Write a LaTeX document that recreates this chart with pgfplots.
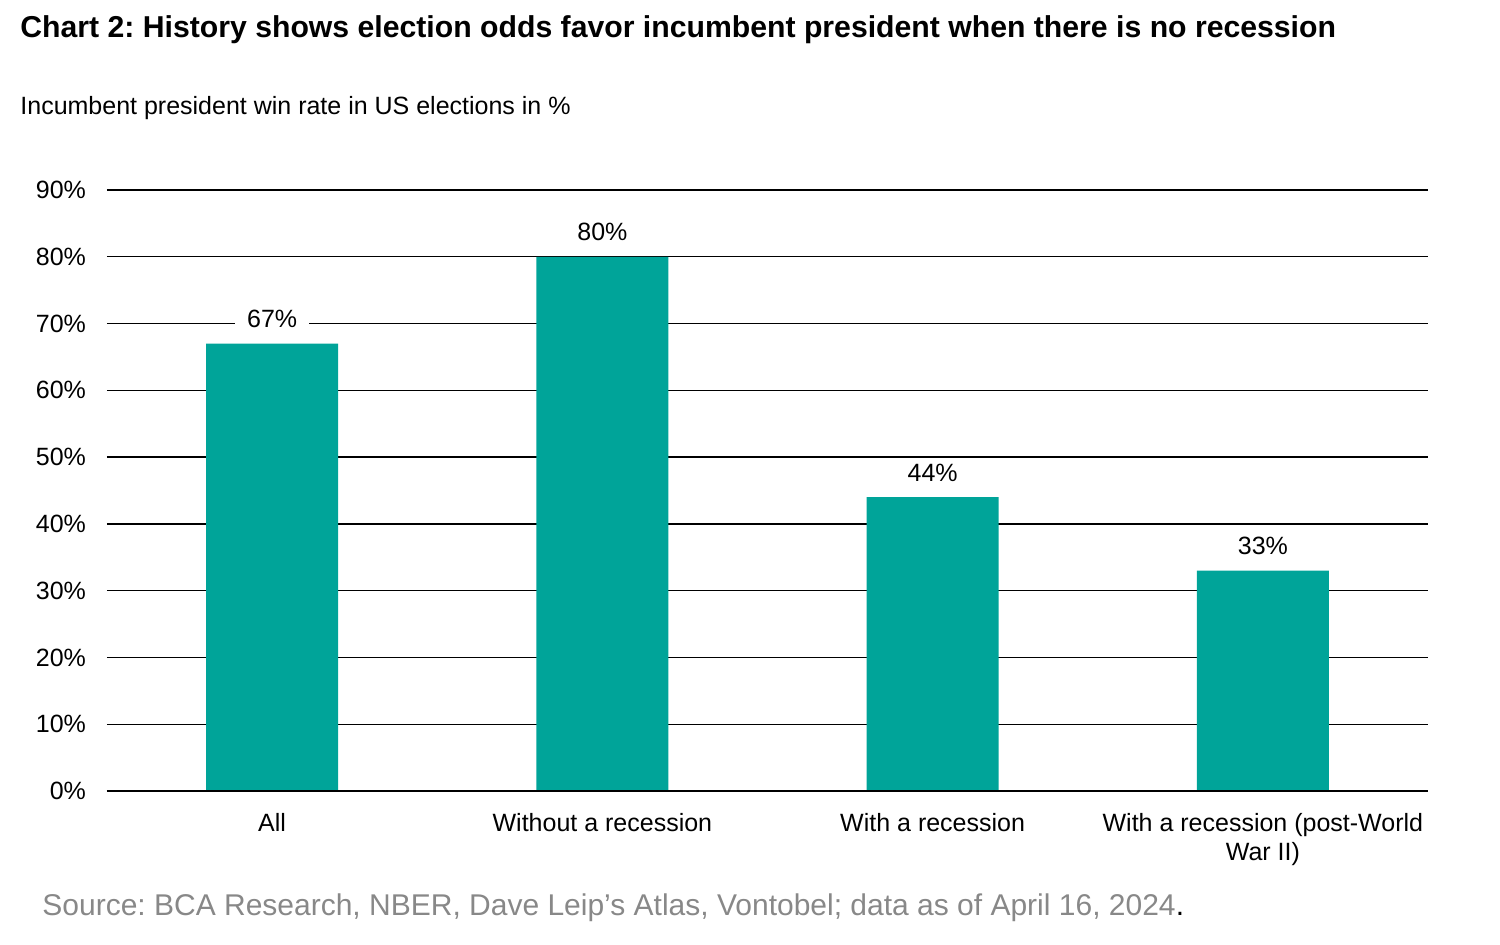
\documentclass[border=0pt]{standalone}
\usepackage{pgfplots}
\pgfplotsset{compat=1.18}
\usepackage{fontspec}
\setmainfont{Liberation Sans}
\definecolor{barteal}{HTML}{00A499}
\definecolor{srcgrey}{HTML}{888888}
\frenchspacing

\begin{document}
\begin{tikzpicture}
  \path[use as bounding box] (0,0) rectangle (750pt,-472.5pt);
  \node[anchor=west, inner sep=0pt, font=\fontsize{15.1}{18}\selectfont\bfseries]
    at (10pt,-15pt) {Chart 2: History shows election odds favor incumbent president when there is no recession};
  \node[anchor=west, inner sep=0pt, font=\fontsize{12.5}{15}\selectfont]
    at (10pt,-54pt) {Incumbent president win rate in US elections in \%};
  \begin{axis}[
    at={(53.5pt,-395.5pt)}, anchor=south west,
    scale only axis,
    width=660.5pt, height=300.5pt,
    xmin=-0.5, xmax=3.5,
    ymin=0, ymax=90,
    ytick={0,10,...,90},
    yticklabel={\pgfmathprintnumber{\tick}\%},
    xtick={0,1,2,3},
    xticklabels={All, Without a recession, With a recession, {With a recession (post-World\\War II)}},
    x tick label style={align=center, font=\fontsize{12.5}{14.5}\selectfont, yshift=-7.5pt},
    y tick label style={font=\fontsize{12.5}{15}\selectfont},
    /pgf/number format/assume math mode=true,
    axis line style={draw=none},
    major tick length=0pt,
    ymajorgrids,
    grid style={black, line width=0.65pt},
    yticklabel style={xshift=-7pt},
    clip=false,
  ]
    \addplot[ybar, bar width=66pt, fill=barteal, draw=none,
      nodes near coords={\pgfmathprintnumber{\pgfplotspointmeta}\%},
      nodes near coords style={font=\fontsize{12.5}{15}\selectfont, fill=white,
        inner xsep=6pt, inner ysep=2pt, anchor=south, yshift=5.8pt, text=black}]
      coordinates {(0,67) (1,80) (2,44) (3,33)};
    \draw[black, line width=0.65pt] (axis cs:-0.5,0) -- (axis cs:3.5,0);
  \end{axis}
  \node[anchor=west, inner sep=0pt, font=\fontsize{15}{18}\selectfont]
    at (21pt,-454pt) {\textcolor{srcgrey}{Source: BCA Research, NBER, Dave Leip’s Atlas, Vontobel; data as of April 16, 2024}.};
\end{tikzpicture}
\end{document}
